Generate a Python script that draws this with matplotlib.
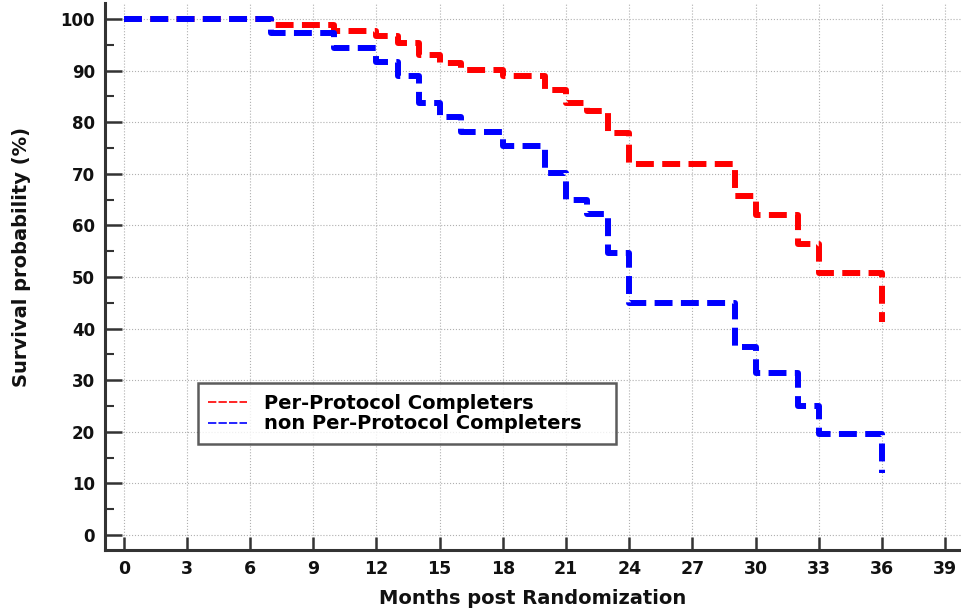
import matplotlib
matplotlib.use('Agg')
import matplotlib.pyplot as plt
from matplotlib.lines import Line2D

# Kaplan-Meier step data (months, survival %)
months = [0, 7, 10, 12, 13, 14, 15, 16, 18, 20, 21, 22, 23, 24, 29, 30, 32, 33, 36]
surv_pp = [100, 98.8, 97.7, 96.7, 95.3, 93.0, 91.5, 90.2, 89.0, 86.2, 83.7, 82.2,
           78.0, 71.9, 65.7, 62.0, 56.4, 50.7, 41.3]
surv_non_pp = [100, 97.3, 94.4, 91.7, 89.0, 83.8, 81.0, 78.1, 75.4, 70.1, 64.9, 62.2,
               54.7, 45.0, 36.4, 31.4, 25.0, 19.6, 12.0]

labels = ['Per-Protocol Completers', 'non Per-Protocol Completers']
colors = ['#ff0000', '#0000ff']
x_ticks = list(range(0, 40, 3))
y_ticks = list(range(0, 101, 10))

plt.rcParams['font.family'] = ['DejaVu Sans']
plt.rcParams['font.weight'] = 'bold'

fig = plt.figure(figsize=(9.61, 6.09), dpi=100)
ax = fig.add_axes([0.109, 0.0969, 0.8907, 0.8982])

dash = (0, (3, 1.4))
ax.step(months, surv_pp, where='post', color=colors[0], lw=4.3, linestyle=dash, zorder=3)
ax.step(months, surv_non_pp, where='post', color=colors[1], lw=4.3, linestyle=dash, zorder=4)

ax.set_xlim(-0.9, 39.74)
ax.set_ylim(-2.9, 103.1)
ax.set_xticks(x_ticks)
ax.set_yticks(y_ticks)
ax.set_yticks(list(range(5, 100, 10)), minor=True)

ax.grid(True, which='major', linestyle=':', color='#b0b0b0', lw=0.8)

for side in ['top', 'right']:
    ax.spines[side].set_visible(False)
for side in ['left', 'bottom']:
    ax.spines[side].set_color('#333333')
    ax.spines[side].set_linewidth(2.2)

ax.tick_params(axis='y', which='major', direction='in', length=12, width=1.8,
               color='#333333', labelsize=12, pad=7)
ax.tick_params(axis='y', which='minor', direction='in', length=6.5, width=1.5, color='#333333')
ax.tick_params(axis='x', which='major', direction='in', length=9.5, width=1.8,
               color='#333333', labelsize=12.5, pad=7)
for lab in ax.get_xticklabels() + ax.get_yticklabels():
    lab.set_fontweight('bold')
    lab.set_color('#111111')

ax.set_xlabel('Months post Randomization', fontsize=14, fontweight='bold', color='#111111')
ax.xaxis.set_label_coords(0.5, -0.072)
ax.set_ylabel('Survival probability (%)', fontsize=14, fontweight='bold', color='#111111')
ax.yaxis.set_label_coords(-0.086, 0.536)

handles = [Line2D([0], [0], color=c, lw=1.2, linestyle=(0, (5, 1.3))) for c in colors]
leg = ax.legend(handles, labels, loc='upper left',
                bbox_to_anchor=(0.1086, 0.1956, 0.489, 0.11), mode='expand',
                borderaxespad=0, frameon=True, fancybox=False,
                handlelength=2.0, handletextpad=0.85, labelspacing=0.1, borderpad=0.55,
                prop={'weight': 'bold', 'size': 14})
leg.get_frame().set_edgecolor('#333333')
leg.get_frame().set_linewidth(1.8)
leg.set_zorder(5)

plt.savefig('out.png', dpi=100)
plt.close()
